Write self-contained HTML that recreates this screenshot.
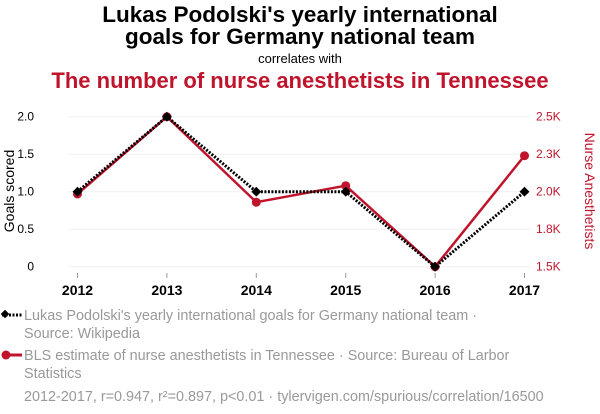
<!DOCTYPE html>
<html><head><meta charset="utf-8"><style>
body{margin:0;width:600px;height:414px;background:#fff;font-family:"Liberation Sans",sans-serif;overflow:hidden}
</style></head><body>
<svg width="600" height="414" style="position:absolute;left:0;top:0;font-family:'Liberation Sans',sans-serif">
<text x="300" y="22" text-anchor="middle" font-size="22.5" font-weight="bold" fill="#000">Lukas Podolski's yearly international</text>
<text x="300" y="44" text-anchor="middle" font-size="22.5" font-weight="bold" fill="#000">goals for Germany national team</text>
<text x="300" y="63" text-anchor="middle" font-size="13" fill="#000">correlates with</text>
<text x="300" y="88" text-anchor="middle" font-size="22" font-weight="bold" fill="#c0142c">The number of nurse anesthetists in Tennessee</text>
<g id="grid"></g><g id="axes"></g><g id="series"></g>
<text transform="translate(14,191) rotate(-90)" text-anchor="middle" font-size="14" fill="#000">Goals scored</text>
<text transform="translate(585,191) rotate(90)" text-anchor="middle" font-size="14" fill="#c0142c">Nurse Anesthetists</text>
<g>
<line x1="2" y1="315" x2="22" y2="315" stroke="#000" stroke-width="3" stroke-dasharray="2,1.5"/><rect x="2" y="311" width="6" height="6" transform="rotate(45 5 314)" fill="#000"/>
<text x="24" y="320" font-size="14.4" fill="#999">Lukas Podolski's yearly international goals for Germany national team ·</text>
<text x="24" y="338" font-size="14.4" fill="#999">Source: Wikipedia</text></g>
<g>
<line x1="2" y1="355" x2="22" y2="355" stroke="#c0142c" stroke-width="3"/><circle cx="6" cy="355" r="4.5" fill="#c0142c"/>
<text x="24" y="360" font-size="14.4" fill="#999">BLS estimate of nurse anesthetists in Tennessee · Source: Bureau of Larbor</text>
<text x="24" y="378" font-size="14.4" fill="#999">Statistics</text></g>
<text x="24" y="401" font-size="14.4" fill="#999">2012-2017, r=0.947, r²=0.897, p&lt;0.01 · tylervigen.com/spurious/correlation/16500</text>
</svg>
<script>
const years=[2012,2013,2014,2015,2016,2017];
const goals=[1,2,1,1,0,1];
const nurses=[1985,2500,1930,2040,1500,2240];
const leftTicks=[0,0.5,1.0,1.5,2.0];
const leftTickLabels=["0","0.5","1.0","1.5","2.0"];
const rightTicks=[1500,1750,2000,2250,2500];
const rightTickLabels=["1.5K","1.8K","2.0K","2.3K","2.5K"];
const NS="http://www.w3.org/2000/svg";
const x=i=>77.5+(524.5-77.5)*(i-2012)/5;
const yL=v=>266.7-v/2*150;
const yR=v=>266.7-(v-1500)/1000*150;
function mk(t,a,p){const e=document.createElementNS(NS,t);for(const k in a)e.setAttribute(k,a[k]);document.getElementById(p).appendChild(e);return e;}
leftTicks.forEach((v,i)=>{
 const g=mk('line',{x1:68,x2:530,y1:yL(v),y2:yL(v),stroke:'#f0f0f0','stroke-width':1},'grid');
 
 
 const t=mk('text',{x:34,y:yL(v)+4,'text-anchor':'end','font-size':12,fill:'#000'},'axes');t.textContent=leftTickLabels[i];
 
 
});
rightTicks.forEach((v,i)=>{
 const t=mk('text',{x:536,y:yR(v)+4,'text-anchor':'start','font-size':12,fill:'#c0142c'},'axes');t.textContent=rightTickLabels[i];
 
 
});
years.forEach(yr=>{
 mk('line',{x1:x(yr),x2:x(yr),y1:273,y2:278,stroke:'#999'},'axes');
 const t=mk('text',{x:x(yr),y:295,'text-anchor':'middle','font-size':14,'font-weight':'bold',fill:'#000'},'axes');t.textContent=yr;
 
 
});
const rl=mk('polyline',{points:years.map((yr,i)=>x(yr)+','+yR(nurses[i])).join(' '),fill:'none',stroke:'#c0142c','stroke-width':2.5},'series');


years.forEach((yr,i)=>{const c=mk('circle',{cx:x(yr),cy:yR(nurses[i]),r:4.5,fill:'#c0142c'},'series');
 
 });
const bl=mk('polyline',{points:years.map((yr,i)=>x(yr)+','+yL(goals[i])).join(' '),fill:'none',stroke:'#000','stroke-width':3,'stroke-dasharray':'2,1.5'},'series');


years.forEach((yr,i)=>{const cx=x(yr),cy=yL(goals[i]);const d=mk('rect',{x:cx-3.5,y:cy-3.5,width:7,height:7,fill:'#000',transform:`rotate(45 ${cx} ${cy})`},'series');
 
 });
</script>
</body></html>
